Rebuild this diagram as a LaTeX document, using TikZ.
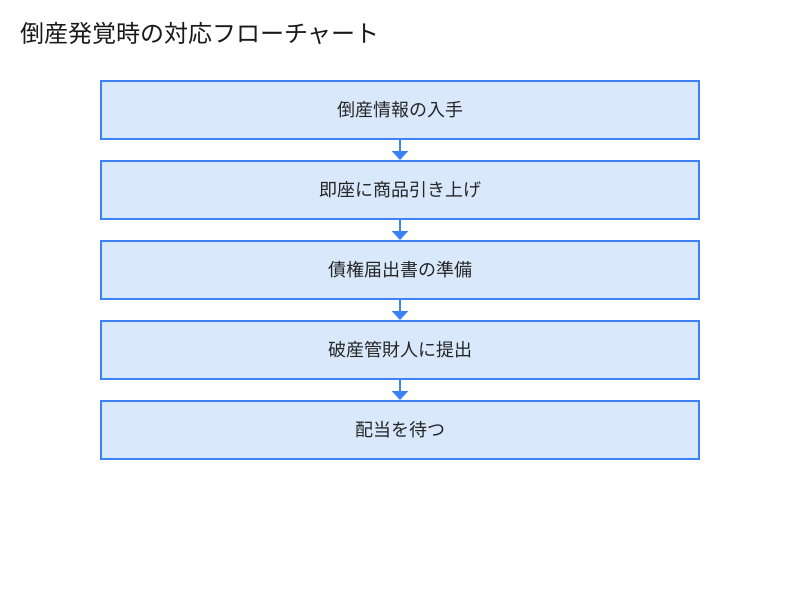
\documentclass[tikz,border=0pt]{standalone}
\usepackage{fontspec}
\setmainfont{Noto Sans CJK JP}
\usetikzlibrary{arrows.meta}
\definecolor{boxfill}{HTML}{DAE8FC}
\definecolor{boxline}{HTML}{3B82F6}
\tikzset{
  stepbox/.style={draw=boxline, line width=2pt, fill=boxfill, minimum width=598pt, minimum height=58pt, inner sep=0pt, font=\fontsize{18}{21}\selectfont, text=black!85},
  flow/.style={draw=boxline, line width=2pt, -{Triangle[width=16pt,length=9pt]}, color=boxline}
}
\begin{document}
\begin{tikzpicture}[x=1pt,y=-1pt]
\useasboundingbox (0,0) rectangle (800,600);
\fill[white] (0,0) rectangle (800,600);
\node[anchor=west, font=\fontsize{24}{27}\selectfont, text=black!90, inner sep=0pt] (title) at (20,33) {倒産発覚時の対応フローチャート};
\node[stepbox] (s1) at (400,110) {倒産情報の入手};
\node[stepbox] (s2) at (400,190) {即座に商品引き上げ};
\node[stepbox] (s3) at (400,270) {債権届出書の準備};
\node[stepbox] (s4) at (400,350) {破産管財人に提出};
\node[stepbox] (s5) at (400,430) {配当を待つ};
\draw[flow] (s1) -- (s2);
\draw[flow] (s2) -- (s3);
\draw[flow] (s3) -- (s4);
\draw[flow] (s4) -- (s5);
\end{tikzpicture}
\end{document}
